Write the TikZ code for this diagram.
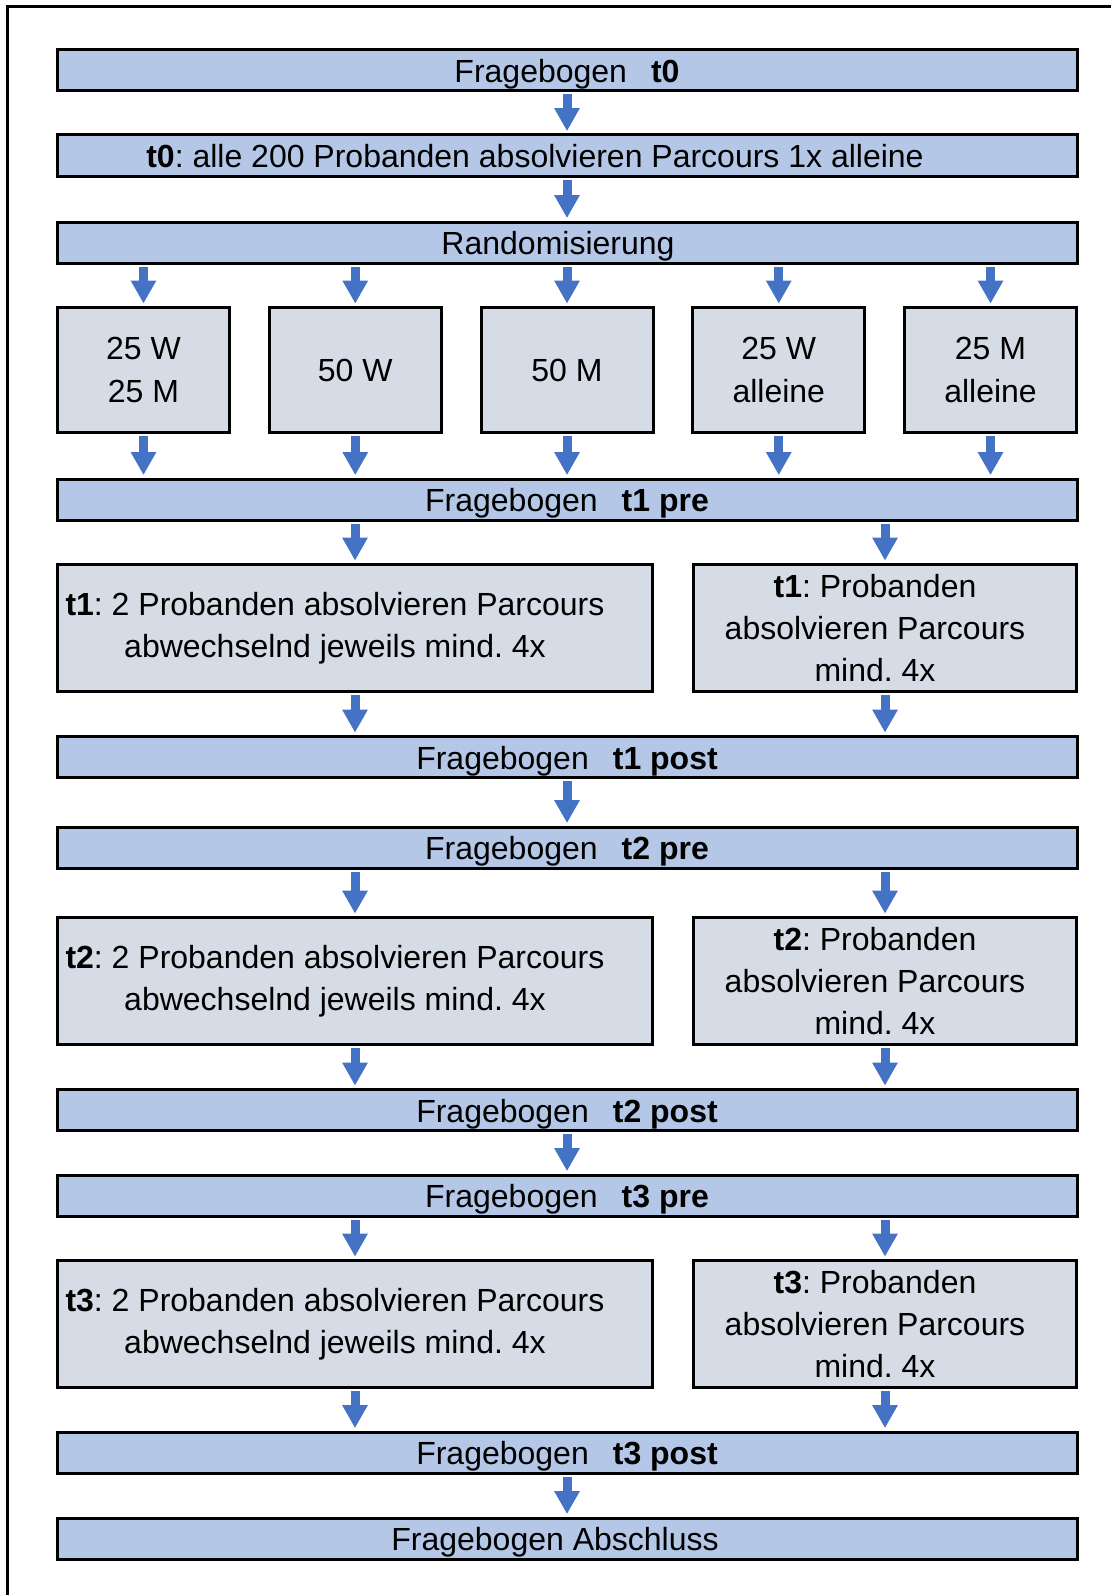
\documentclass[tikz,border=0pt]{standalone}
\usepackage{fontspec}
\setmainfont{Liberation Sans}
\usepackage{tikz}
\usetikzlibrary{arrows.meta}

\definecolor{barblue}{HTML}{B4C7E7}
\definecolor{boxgray}{HTML}{D6DCE5}
\definecolor{flowblue}{HTML}{4472C4}

\frenchspacing
\newcommand{\frage}[1]{Fragebogen\hspace{0.75em}\textbf{#1}}

\begin{document}
\begin{tikzpicture}[x=0.5pt, y=-0.5pt,
		txt/.style={font=\fontsize{16}{21.2}\selectfont, align=center, inner sep=0pt},
		bartxt/.style={txt, text height=12.4pt, text depth=0pt},
		bar/.style={bartxt, draw, line width=1.5pt, fill=barblue, minimum width=510pt, minimum height=20.5pt},
		group/.style={txt, draw, line width=1.5pt, fill=boxgray, minimum width=86pt, minimum height=62.5pt},
		pair/.style={txt, draw, line width=1.5pt, fill=boxgray, minimum width=297.5pt, minimum height=63.5pt},
		solo/.style={txt, draw, line width=1.5pt, fill=boxgray, minimum width=191.5pt, minimum height=63.5pt},
		flow/.style={draw=flowblue, line width=4.5pt, -{Triangle[width=12pt,length=11.5pt]}, shorten <=1pt, shorten >=1.2pt}]
				\useasboundingbox (0,0) rectangle (1110,1595);
				\draw [line width=1.5pt] (7.5,1600) |- (1115,6.5);

				\node[bar] (f0) at (567,70.5) {\frage{t0}};
				\node[bar, label={[bartxt,xshift=-16pt]center:{\textbf{t0}: alle 200 Probanden absolvieren Parcours 1x alleine}}] (t0) at (567,155.5) {};
				\node[bar, label={[bartxt,xshift=-4.5pt]center:Randomisierung}] (rand) at (567,242.5) {};

				\foreach \t/\pre/\mid/\post in {1/499.5/628/757, 2/847.5/981/1110, 3/1195.5/1324/1452.5} {
					\node[bar] (pre\t) at (567,\pre) {\frage{t\t\ pre}};
					\node[pair, label={[txt,xshift=-10pt]center:{\textbf{t\t}: 2 Probanden absolvieren Parcours\\abwechselnd jeweils mind. 4x}}] (pair\t) at (355,\mid) {};
					\node[solo, label={[txt,xshift=-5pt]center:{\textbf{t\t}: Probanden\\absolvieren Parcours\\mind. 4x}}] (solo\t) at (885,\mid) {};
					\node[bar] (post\t) at (567,\post) {\frage{t\t\ post}};

					\draw[flow] (pre\t.south -| pair\t) -- (pair\t);
					\draw[flow] (pre\t.south -| solo\t) -- (solo\t);
					\draw[flow] (pair\t) -- (post\t.north -| pair\t);
					\draw[flow] (solo\t) -- (post\t.north -| solo\t);
				}

				\node[bar, label={[bartxt,xshift=-6pt]center:Fragebogen Abschluss}] (fin) at (567,1538.5) {};

				% Gruppen nach der Randomisierung
				\foreach \g [count=\i] in {{25 W\\25 M}, 50 W, 50 M, {25 W\\alleine}, {25 M\\alleine}} {
					\node[group] (g\i) at (143.5+211.75*\i-211.75,370) {\g};
					\draw[flow] (rand.south -| g\i) -- (g\i);
					\draw[flow] (g\i) -- (pre1.north -| g\i);
				}

				\foreach \a/\b in {f0/t0, t0/rand, post1/pre2, post2/pre3, post3/fin}
					\draw[flow] (\a) -- (\b);
			\end{tikzpicture}
\end{document}
